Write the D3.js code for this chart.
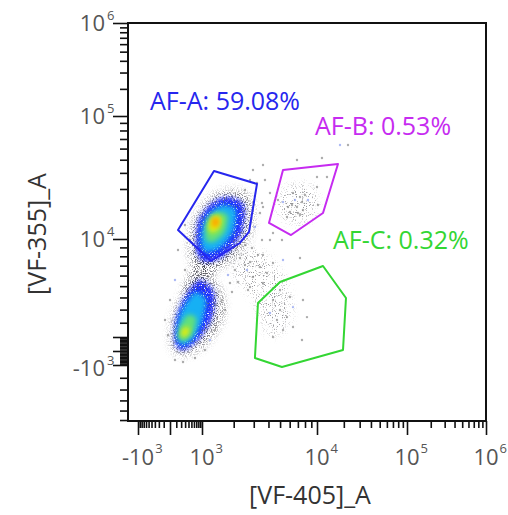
<!DOCTYPE html>
<html>
<head>
<meta charset="utf-8">
<script src="https://cdn.jsdelivr.net/npm/d3@7"></script>
<style>
  body { margin: 0; background: #fff; }
  text { font-family: "Open Sans", "Noto Sans", sans-serif; }
</style>
</head>
<body>
<div id="chart"></div>
<script>
// axis ticks (biexponential-style display)
const xMajor = [-1e3, 0, 1e3, 1e4, 1e5, 1e6];
const xLabelled = [-1e3, 1e3, 1e4, 1e5, 1e6];
const yMajor = [-1e3, 0, 1e3, 1e4, 1e5, 1e6];
const yLabelled = [-1e3, 1e4, 1e5, 1e6];
const minorMult = [2, 3, 4, 5, 6, 7, 8, 9];
const nearZero = [100, 200, 300, 400, 500, 600, 700, 800, 900];

// gates, [VF-405]_A vs [VF-355]_A
const gateNames = ["AF-A", "AF-B", "AF-C"];
const gatePct = ["59.08%", "0.53%", "0.32%"];
const gateA = [[1313, 41350], [3198, 32890], [2728, 12040], [2276, 9520], [1228, 7490], [133, 12660]];
const gateB = [[5286, 42070], [17210, 46580], [11690, 18690], [6150, 11130], [4040, 14970]];
const gateC = [[4992, 5390], [11690, 6964], [21140, 3956], [19580, 68], [5180, -1150], [3070, -488], [3260, 3535]];
const gateLabelAt = [[-450, 118300], [9636, 74570], [15140, 8820]];

// density contours (level: 0 sparse .. 5 peak)
const popA = [
  { level: 0, pts: [[1930, 29470], [2896, 24350], [2784, 11130], [1851, 7380], [1072, 6360], [450, 7810], [522, 14280], [1201, 25330]] },
  { level: 1, pts: [[1775, 25820], [2468, 22060], [2370, 12030], [1666, 8150], [1072, 7380], [687, 8700], [782, 15320], [1256, 22940]] },
  { level: 2, pts: [[1631, 22060], [2096, 19890], [1971, 12030], [1497, 8930], [1072, 8480], [941, 9880], [1047, 15320], [1284, 19890]] },
  { level: 3, pts: [[1497, 19100], [1775, 17510], [1666, 12030], [1313, 9640], [1097, 9880], [1097, 13940], [1256, 17900]] },
  { level: 4, pts: [[1372, 17900], [1563, 16380], [1465, 12980], [1256, 11730], [1148, 13300], [1201, 16380]] },
  { level: 5, pts: [[1284, 16750], [1465, 16380], [1433, 13940], [1256, 13940]] }
];
const popBridge = [
  { level: 0, pts: [[1072, 8150], [1342, 7380], [1072, 4650], [450, 3790], [296, 4650], [643, 7070]] }
];
const popB = [
  { level: 0, pts: [[885, 6360], [1563, 4480], [1563, 2200], [1072, 417], [296, -276], [29, 206], [29, 2200], [296, 4650]] },
  { level: 1, pts: [[885, 5570], [1313, 4480], [1256, 2350], [782, 778], [244, 68], [77, 560], [95, 2350], [324, 4220]] },
  { level: 2, pts: [[687, 4480], [1097, 3790], [1000, 2060], [522, 778], [197, 417], [113, 1140], [174, 2590], [384, 3790]] },
  { level: 3, pts: [[384, 2590], [687, 2350], [561, 1270], [270, 705], [133, 1000], [197, 1910]] },
  { level: 4, pts: [[296, 1690], [450, 1550], [354, 1070], [220, 1000], [197, 1410]] }
];
// faint clouds of rare events (inside AF-B and AF-C)
const sparseClouds = [
  [[5490, 30550], [8779, 32290], [10260, 22060], [7997, 15320], [5490, 16040], [4804, 22060]],
  [[2276, 8700], [3738, 8150], [5490, 5570], [6035, 2200], [4120, 1140], [3074, 3790], [2054, 6060]]
];

// sparse events outside the main populations
const events = [
  [3597, 45790], [11380, 51470], [4804, 24350], [5286, 23400], [6387, 27850], [7285, 25820], [7997, 26800],
  [6885, 21170], [6035, 19100], [7703, 19890], [8457, 24350], [7016, 18690], [5702, 17130], [10000, 31120],
  [10260, 22060], [3198, 33490], [3392, 18690], [3074, 13610], [4366, 11730], [5185, 9880], [4120, 9880],
  [3528, 22940], [10000, 37260], [12960, 37260], [18130, 63660], [22260, 63660], [6885, 49830], [2955, 42070],
  [3738, 35310], [3597, 21170], [4120, 27850], [6633, 24350], [7561, 23400], [6267, 22060], [7285, 17900],
  [5811, 21170], [2518, 29470], [2784, 35310],
  [2621, 6550], [2955, 5860], [3392, 6860], [3887, 6260], [3597, 5290], [2784, 4920], [4366, 7280],
  [5286, 7600], [7285, 7810], [3597, 8150], [4366, 3790], [4992, 2970], [4714, 2200], [5702, 2420],
  [6387, 3200], [7703, 3790], [5286, 1480], [4366, 1000], [6387, 1690], [8300, 2420], [6035, 4040],
  [4120, 2740], [7561, 778], [4992, 4650],
  [2276, 7810], [2518, 7070], [2784, 7380], [2054, 6550], [1775, 6060], [2185, 5380], [2675, 4650],
  [1930, 4480], [1563, 3790], [1342, 3380], [1666, 2970], [1851, 8700], [2896, 8930], [3261, 8150],
  [2518, 9290], [3528, 9880], [1851, 5290],
  [0, 3790], [77, 5570], [-77, 2200], [-29, 1140], [77, -632], [244, -778], [643, -488], [1072, 68],
  [1201, 778], [1342, 1480], [296, 6550], [133, 8700], [450, 9880], [296, 14280]
];

const W = 508, H = 515;
const plot = { l: 128, r: 486, t: 23, b: 421 };

const x = d3.scaleSymlog().constant(300)
  .domain([-1e3, 0, 1e3, 1e4, 1e5, 1e6])
  .range([138, 170, 202, 317, 407, 486]);
const y = d3.scaleSymlog().constant(10000)
  .domain([-1e3, 0, 1e3, 1e4, 1e5, 1e6])
  .range([365, 351, 337, 239, 116, 23]);

const levelColor = ["#40404a", "#1f2bff", "#14b0f4", "#62e07a", "#e0ec10", "#ffa000"];
const gateColor = ["#2626ee", "#c62bf0", "#33d633"];

const svg = d3.select("#chart").append("svg").attr("width", W).attr("height", H);
const defs = svg.append("defs");

defs.append("clipPath").attr("id", "plotClip").append("rect")
  .attr("x", plot.l).attr("y", plot.t).attr("width", plot.r - plot.l).attr("height", plot.b - plot.t);

function grainFilter(id, blur, slope, offset, seed) {
  const f = defs.append("filter").attr("id", id)
    .attr("x", "-30%").attr("y", "-30%").attr("width", "160%").attr("height", "160%");
  f.append("feGaussianBlur").attr("in", "SourceGraphic").attr("stdDeviation", blur).attr("result", "b");
  f.append("feTurbulence").attr("type", "fractalNoise").attr("baseFrequency", 0.9)
    .attr("numOctaves", 1).attr("seed", seed).attr("result", "n");
  f.append("feColorMatrix").attr("in", "n").attr("type", "matrix")
    .attr("values", `0 0 0 0 0  0 0 0 0 0  0 0 0 0 0  ${slope} 0 0 0 ${offset}`).attr("result", "m");
  f.append("feComposite").attr("in", "b").attr("in2", "m").attr("operator", "in");
}
grainFilter("grain0", 4, 7, -3.4, 4);
grainFilter("grain1", 2.5, 6, -1.8, 9);
grainFilter("grainS", 5, 8, -4.6, 17);
defs.append("filter").attr("id", "soft").attr("x", "-30%").attr("y", "-30%")
  .attr("width", "160%").attr("height", "160%")
  .append("feGaussianBlur").attr("stdDeviation", 2.4);

const blob = d3.line().x(d => x(d[0])).y(d => y(d[1])).curve(d3.curveCardinalClosed.tension(0.2));
const poly = d3.line().x(d => x(d[0])).y(d => y(d[1])).curve(d3.curveLinearClosed);

const dens = svg.append("g").attr("clip-path", "url(#plotClip)");

dens.append("g").selectAll("path").data(sparseClouds).join("path")
  .attr("d", blob).attr("fill", "#6a6a70").attr("opacity", 0.7).attr("filter", "url(#grainS)");

// sparse events
dens.append("g").selectAll("circle").data(events).join("circle")
  .attr("cx", d => x(d[0])).attr("cy", d => y(d[1])).attr("r", 1.2)
  .attr("fill", (d, i) => i % 7 === 3 ? "#8a9cf0" : "#8a8a8a").attr("opacity", 0.7);

const contours = [].concat(popBridge, popA, popB).sort((a, b) => a.level - b.level);
dens.append("g").selectAll("path").data(contours).join("path")
  .attr("d", d => blob(d.pts))
  .attr("fill", d => levelColor[d.level])
  .attr("opacity", d => d.level === 0 ? 0.8 : 1)
  .attr("filter", d => d.level === 0 ? "url(#grain0)" : d.level === 1 ? "url(#grain1)" : "url(#soft)");

// gates
const gates = [gateA, gateB, gateC];
svg.append("g").selectAll("path").data(gates).join("path")
  .attr("d", d => poly(d))
  .attr("fill", "none")
  .attr("stroke", (d, i) => gateColor[i])
  .attr("stroke-width", 2)
  .attr("stroke-linejoin", "round");

svg.append("g").selectAll("text").data(gateNames).join("text")
  .attr("x", (d, i) => x(gateLabelAt[i][0]))
  .attr("y", (d, i) => y(gateLabelAt[i][1]))
  .attr("font-size", 25)
  .attr("fill", (d, i) => gateColor[i])
  .text((d, i) => `${d}: ${gatePct[i]}`);

// axes
const xMinor = nearZero.map(v => -v).concat(nearZero,
  minorMult.map(m => m * 1e3), minorMult.map(m => m * 1e4), minorMult.map(m => m * 1e5));
const yMinor = nearZero.map(v => -v).concat(nearZero, [-2e3, -3e3, -4e3, -5e3, -6e3],
  minorMult.map(m => m * 1e3), minorMult.map(m => m * 1e4), minorMult.map(m => m * 1e5));

function styleAxis(g) {
  g.select(".domain").remove();
  g.selectAll("line").attr("stroke", "#111").attr("stroke-width", 1.6);
}

svg.append("g").attr("transform", `translate(0,${plot.b})`)
  .call(d3.axisBottom(x).tickValues(xMinor).tickSize(7).tickFormat("")).call(styleAxis);
svg.append("g").attr("transform", `translate(0,${plot.b})`)
  .call(d3.axisBottom(x).tickValues(xMajor).tickSize(14).tickFormat("")).call(styleAxis);
svg.append("g").attr("transform", `translate(${plot.l},0)`)
  .call(d3.axisLeft(y).tickValues(yMinor).tickSize(8).tickFormat("")).call(styleAxis);
svg.append("g").attr("transform", `translate(${plot.l},0)`)
  .call(d3.axisLeft(y).tickValues(yMajor).tickSize(15).tickFormat("")).call(styleAxis);

const base = v => (v < 0 ? "-" : "") + "10";
const expo = v => String(Math.round(Math.log10(Math.abs(v))));

const xl = svg.append("g").attr("fill", "#555");
xLabelled.forEach(v => {
  const t = xl.append("text").attr("x", x(v)).attr("y", 465).attr("font-size", 22)
    .attr("text-anchor", "middle").text(base(v));
  const w = t.node().getComputedTextLength();
  xl.append("text").attr("x", x(v) + w / 2 + 1).attr("y", 453).attr("font-size", 13).text(expo(v));
});

const yl = svg.append("g").attr("fill", "#555");
yLabelled.forEach(v => {
  const ty = y(v) + (v < 0 ? 3 : 0);
  yl.append("text").attr("x", 105).attr("y", ty + 8).attr("font-size", 22)
    .attr("text-anchor", "end").text(base(v));
  yl.append("text").attr("x", 107).attr("y", ty - 3).attr("font-size", 13).text(expo(v));
});

// frame
svg.append("rect")
  .attr("x", plot.l).attr("y", plot.t)
  .attr("width", plot.r - plot.l).attr("height", plot.b - plot.t)
  .attr("fill", "none").attr("stroke", "#111").attr("stroke-width", 2);

// axis titles
svg.append("text").attr("x", 310).attr("y", 504).attr("text-anchor", "middle")
  .attr("font-size", 25).attr("fill", "#333").text("[VF-405]_A");
svg.append("text").attr("transform", "translate(46,234) rotate(-90)").attr("text-anchor", "middle")
  .attr("font-size", 25).attr("fill", "#333").text("[VF-355]_A");
</script>
</body>
</html>
